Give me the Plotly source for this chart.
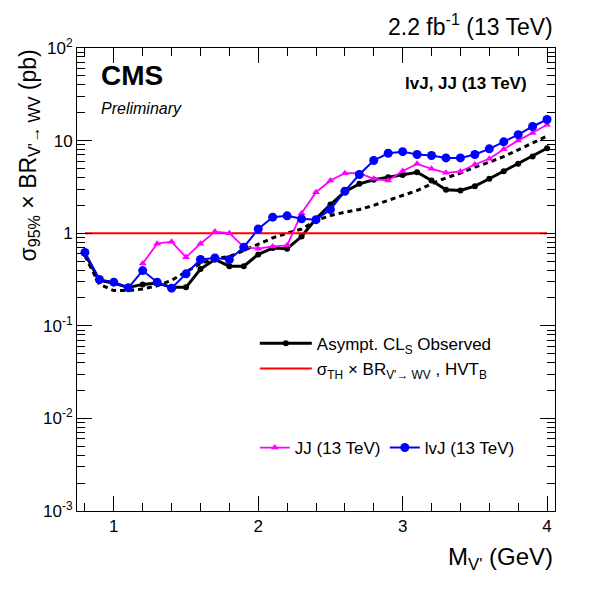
import plotly.graph_objects as go

# ---------------- data ----------------
mass = [0.8, 0.9, 1.0, 1.1, 1.2, 1.3, 1.4, 1.5, 1.6, 1.7, 1.8, 1.9, 2.0, 2.1, 2.2,
        2.3, 2.4, 2.5, 2.6, 2.7, 2.8, 2.9, 3.0, 3.1, 3.2, 3.3, 3.4, 3.5, 3.6, 3.7,
        3.8, 3.9, 4.0]

observed = [0.60, 0.31, 0.29, 0.26, 0.28, 0.29, 0.26, 0.26, 0.41, 0.52, 0.44, 0.44,
            0.59, 0.69, 0.68, 0.92, 1.43, 2.04, 2.80, 3.41, 3.77, 4.02, 4.25, 4.55,
            3.71, 2.94, 2.89, 3.22, 3.87, 4.67, 5.61, 6.73, 8.27]

expected = [0.57, 0.28, 0.24, 0.24, 0.25, 0.27, 0.31, 0.38, 0.47, 0.53, 0.56, 0.65,
            0.76, 0.89, 1.00, 1.11, 1.37, 1.55, 1.69, 1.80, 2.00, 2.25, 2.55, 2.89,
            3.41, 3.96, 4.45, 5.17, 5.85, 6.73, 7.95, 9.40, 11.2]

lvj_limit = [0.62, 0.316, 0.296, 0.257, 0.395, 0.296, 0.255, 0.364, 0.52, 0.54, 0.52,
             0.706, 1.11, 1.49, 1.54, 1.43, 1.40, 1.80, 2.84, 4.30, 6.10, 7.30, 7.60,
             7.08, 6.90, 6.50, 6.50, 7.08, 8.15, 9.70, 11.6, 14.2, 16.9]

jj_mass = [1.2, 1.3, 1.4, 1.5, 1.6, 1.7, 1.8, 1.9, 2.0, 2.1, 2.2, 2.3, 2.4, 2.5, 2.6,
           2.7, 2.8, 2.9, 3.0, 3.1, 3.2, 3.3, 3.4, 3.5, 3.6, 3.7, 3.8, 3.9, 4.0]
jj_limit = [0.47, 0.77, 0.81, 0.55, 0.77, 1.04, 1.00, 0.71, 0.68, 0.72, 0.74, 1.64,
            2.77, 3.71, 4.45, 4.45, 3.87, 3.71, 4.70, 5.61, 4.96, 4.49, 4.64, 5.52,
            6.36, 8.07, 10.0, 12.1, 14.8]

theory_mass = [0.8, 4.0]
theory_xsec = [1.0, 1.0]

y_tickvals = [1e-3, 1e-2, 1e-1, 1, 10, 100]
y_ticktext = ["10<sup>-3</sup>", "10<sup>-2</sup>", "10<sup>-1</sup>", "1", "10", "10<sup>2</sup>"]
y_minor_vals = [k * 10.0 ** e for e in range(-3, 2) for k in range(2, 10)]
x_tickvals = [1, 2, 3, 4]
x_ticktext = ["1", "2", "3", "4"]
x_minor_vals = [0.8, 1.2, 1.4, 1.6, 1.8, 2.2, 2.4, 2.6, 2.8, 3.2, 3.4, 3.6, 3.8]

FONT = "Liberation Sans, Arial, Helvetica, sans-serif"

fig = go.Figure()

fig.add_trace(go.Scatter(
    x=mass, y=expected, mode="lines",
    line=dict(color="black", width=3, dash="5px,4px"),
    showlegend=False, hoverinfo="skip"))

fig.add_trace(go.Scatter(
    x=mass, y=observed, mode="lines+markers",
    line=dict(color="black", width=3),
    marker=dict(symbol="circle", size=6, color="black"),
    name="Asympt. CL<sub>S</sub> Observed", legend="legend"))

fig.add_trace(go.Scatter(
    x=theory_mass, y=theory_xsec, mode="lines",
    line=dict(color="#ff0000", width=2),
    name="σ<sub>TH</sub> × BR<sub>V'→ WV</sub> , HVT<sub>B</sub>", legend="legend"))

fig.add_trace(go.Scatter(
    x=jj_mass, y=jj_limit, mode="lines+markers",
    line=dict(color="#ff00ff", width=1.8),
    marker=dict(symbol="triangle-up", size=7, color="#ff00ff"),
    name="JJ (13 TeV)", legend="legend2"))

fig.add_trace(go.Scatter(
    x=mass, y=lvj_limit, mode="lines+markers",
    line=dict(color="#0000ff", width=2),
    marker=dict(symbol="circle", size=9, color="#0000ff"),
    name="lvJ (13 TeV)", legend="legend2"))

tickfont = dict(family=FONT, size=17, color="black")

fig.update_layout(
    width=596, height=602,
    margin=dict(l=77, r=41, t=48, b=91),
    paper_bgcolor="white", plot_bgcolor="rgba(0,0,0,0)",
    font=dict(family=FONT, color="black"),
    xaxis=dict(
        range=[0.745, 4.055], tickmode="array", tickvals=x_tickvals, ticktext=x_ticktext,
        ticks="inside", ticklen=15, tickwidth=1, tickcolor="#000000",
        showline=True, linecolor="black", linewidth=1, mirror="ticks",
        showgrid=False, zeroline=False, tickfont=tickfont,
        minor=dict(ticks="inside", tickmode="array", tickvals=x_minor_vals,
                   ticklen=8, tickwidth=1, tickcolor="#000000"),
    ),
    yaxis=dict(
        type="log", range=[-3, 2], tickmode="array", tickvals=y_tickvals, ticktext=y_ticktext,
        ticks="inside", ticklen=15, tickwidth=1, tickcolor="#000000",
        showline=True, linecolor="black", linewidth=1, mirror="ticks",
        showgrid=False, zeroline=False, tickfont=tickfont,
        minor=dict(ticks="inside", tickmode="array", tickvals=y_minor_vals,
                   ticklen=8, tickwidth=1, tickcolor="#000000"),
    ),
    legend=dict(x=0.372, y=0.40, xanchor="left", yanchor="top",
                bgcolor="rgba(0,0,0,0)", borderwidth=0, itemwidth=52,
                font=dict(family=FONT, size=17, color="black"), tracegroupgap=0),
    legend2=dict(x=0.372, y=0.175, xanchor="left", yanchor="top", orientation="h",
                 bgcolor="rgba(0,0,0,0)", borderwidth=0, itemwidth=30,
                 entrywidth=85, entrywidthmode="pixels",
                 font=dict(family=FONT, size=17, color="black")),
    annotations=[
        dict(text="2.2 fb<sup>-1</sup> (13 TeV)", xref="paper", yref="paper",
             x=1.0, y=1.0, xanchor="right", yanchor="bottom", yshift=6, showarrow=False,
             font=dict(family=FONT, size=23, color="black")),
        dict(text="<b>CMS</b>", xref="paper", yref="paper",
             x=(99 - 77) / 478, y=(511 - 58) / 463, xanchor="left", yanchor="top", showarrow=False,
             font=dict(family=FONT, size=28, color="black")),
        dict(text="<i>Preliminary</i>", xref="paper", yref="paper",
             x=(99 - 77) / 478, y=(511 - 98) / 463, xanchor="left", yanchor="top", showarrow=False,
             font=dict(family=FONT, size=16, color="black")),
        dict(text="<b>lvJ, JJ (13 TeV)</b>", xref="paper", yref="paper",
             x=(529 - 77) / 478, y=(511 - 72) / 463, xanchor="right", yanchor="top", showarrow=False,
             font=dict(family=FONT, size=17, color="black")),
        dict(text="σ<sub>95%</sub> × BR<sub>V'→ WV</sub> (pb)", xref="paper", yref="paper",
             x=(12 - 77) / 478, y=1.0, xanchor="left", yanchor="top", textangle=-90,
             showarrow=False, font=dict(family=FONT, size=23, color="black")),
        dict(text="M<sub>V'</sub> (GeV)", xref="paper", yref="paper",
             x=1.0, y=(511 - 541) / 463, xanchor="right", yanchor="top", showarrow=False,
             font=dict(family=FONT, size=24, color="black")),
    ],
)

fig.write_html("out.html", config={"displayModeBar": False},
               post_script="document.body.style.margin='0px';")
